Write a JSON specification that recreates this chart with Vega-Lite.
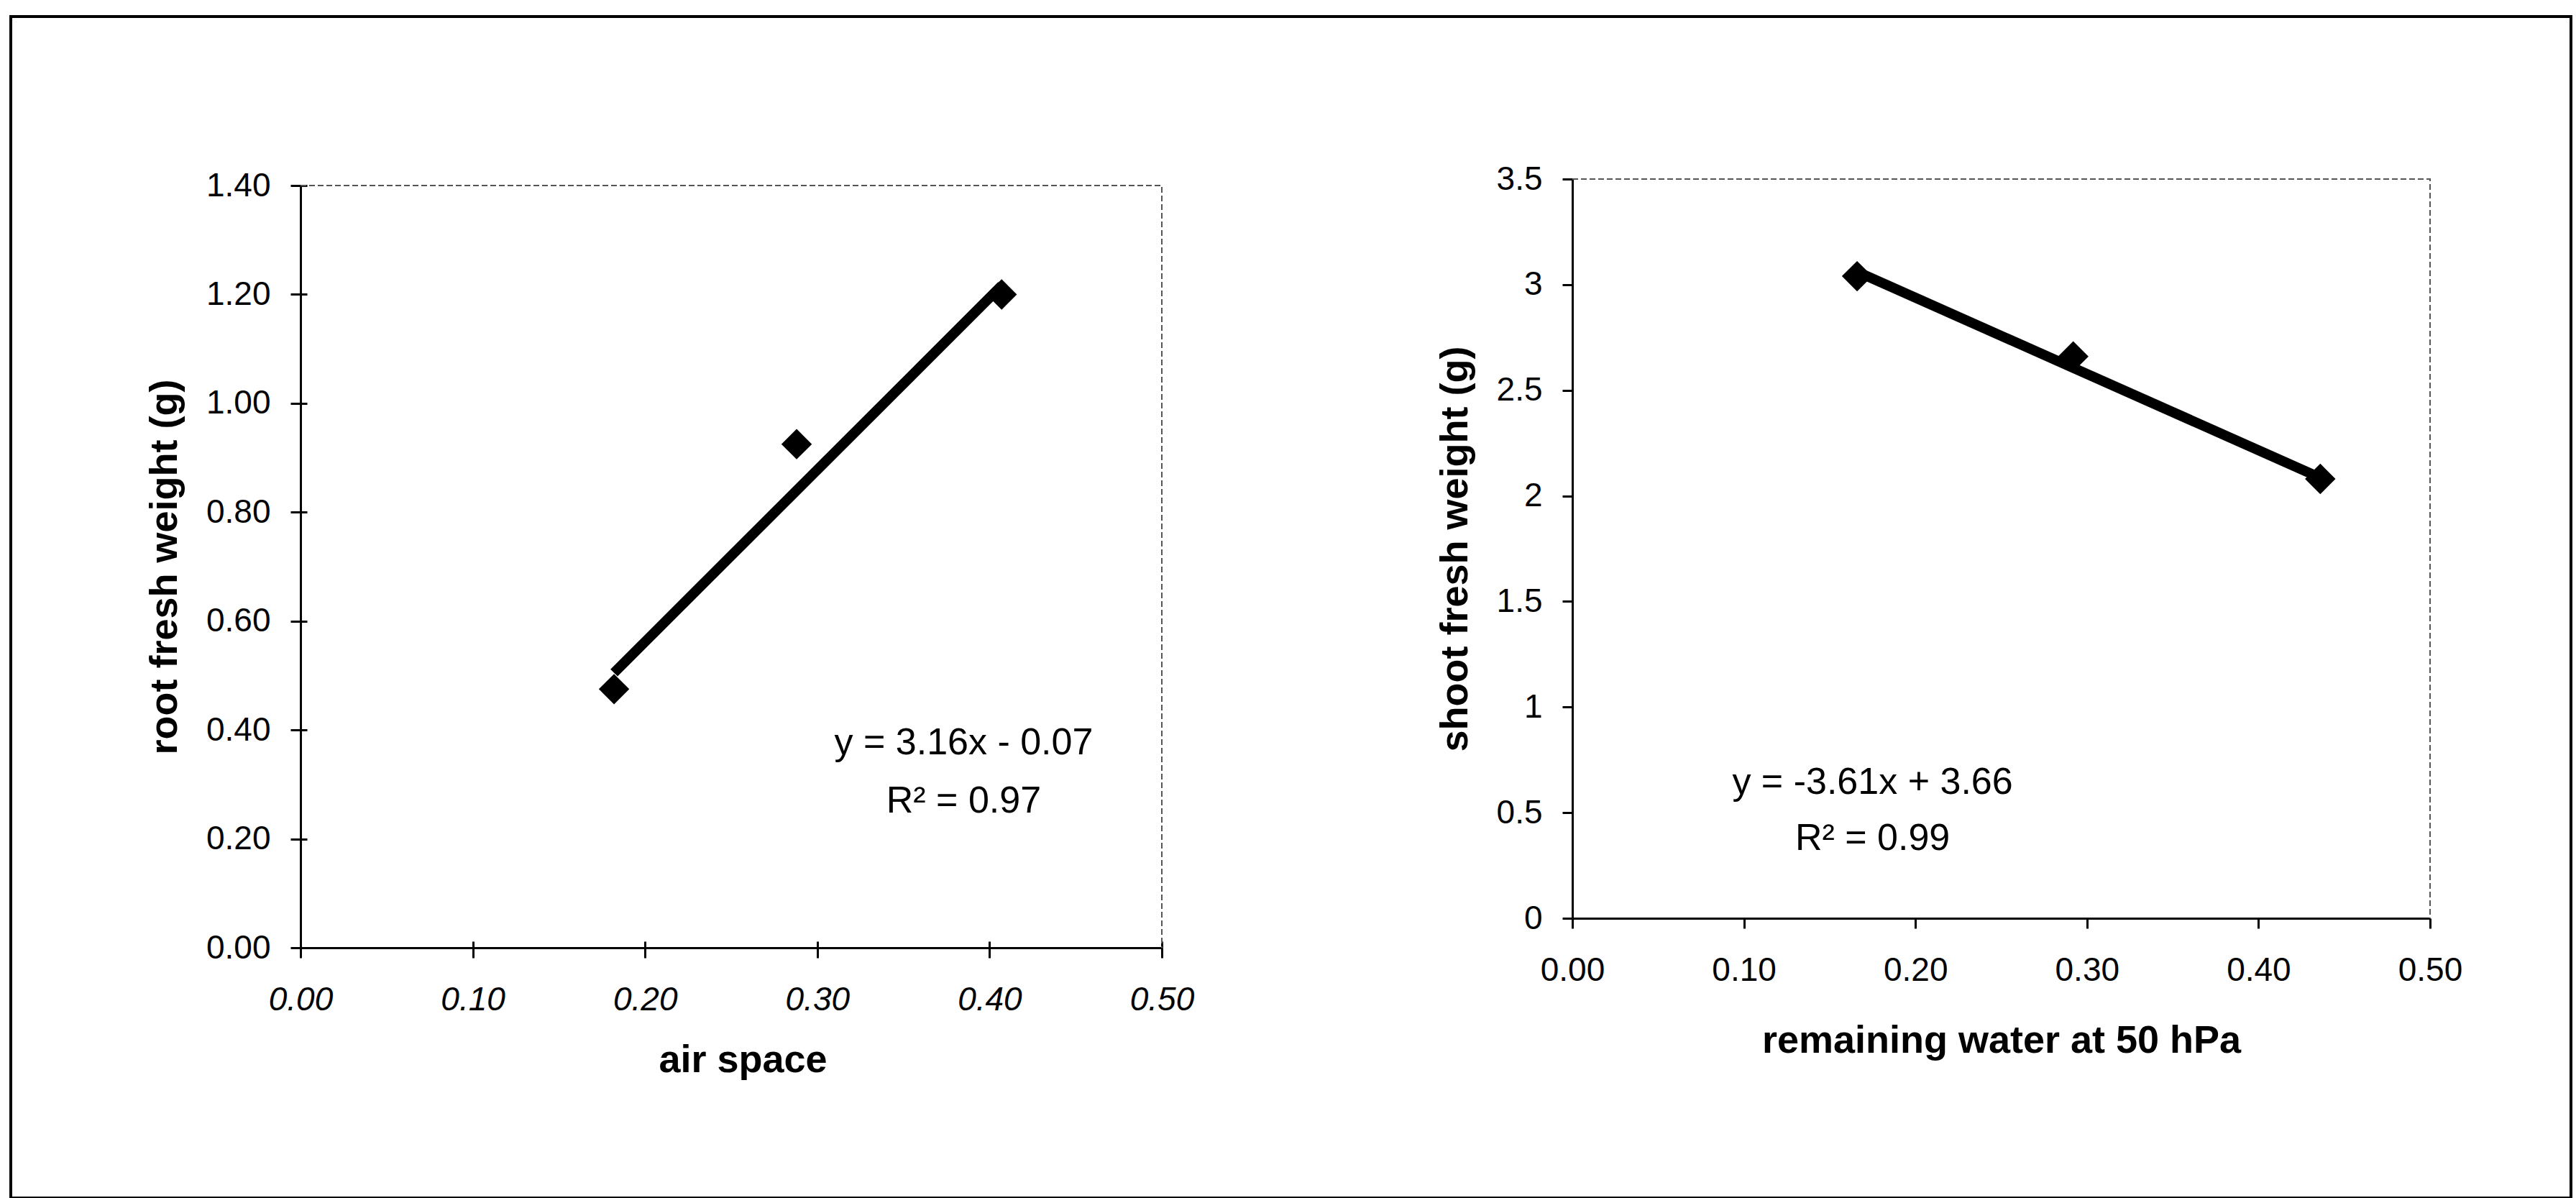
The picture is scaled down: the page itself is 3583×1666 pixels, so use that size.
{
  "$schema": "https://vega.github.io/schema/vega-lite/v6.json",
  "background": "white",
  "width": 3583,
  "height": 1666,
  "autosize": {"type": "fit", "contains": "padding"},
  "padding": {"left": 15, "top": 23, "right": 7, "bottom": 0},
  "datasets": {
    "root_box": [
      {"x": 0, "y": 1.4, "o": 1},
      {"x": 0.5, "y": 1.4, "o": 2},
      {"x": 0.5, "y": 0, "o": 3}
    ],
    "root_points": [
      {"x": 0.182, "y": 0.475},
      {"x": 0.288, "y": 0.925},
      {"x": 0.407, "y": 1.2}
    ],
    "root_fit": [
      {"x": 0.182, "y": 0.505},
      {"x": 0.407, "y": 1.216}
    ],
    "root_eq": [
      {"x": 0.385, "y": 0.376, "label": "y = 3.16x - 0.07"},
      {"x": 0.385, "y": 0.269, "label": "R² = 0.97"}
    ],
    "shoot_box": [
      {"x": 0, "y": 3.5, "o": 1},
      {"x": 0.5, "y": 3.5, "o": 2},
      {"x": 0.5, "y": 0, "o": 3}
    ],
    "shoot_points": [
      {"x": 0.166, "y": 3.04},
      {"x": 0.292, "y": 2.66},
      {"x": 0.436, "y": 2.08}
    ],
    "shoot_fit": [
      {"x": 0.166, "y": 3.061},
      {"x": 0.436, "y": 2.086}
    ],
    "shoot_eq": [
      {"x": 0.175, "y": 0.645, "label": "y = -3.61x + 3.66"},
      {"x": 0.175, "y": 0.378, "label": "R² = 0.99"}
    ]
  },
  "config": {
    "font": "Liberation Sans",
    "view": {"stroke": "black", "strokeWidth": 4},
    "axis": {
      "grid": true,
      "gridColor": "black",
      "gridWidth": 3,
      "gridOpacity": 1,
      "gridDash": [9, 5000],
      "zindex": 1,
      "domainColor": "black",
      "domainWidth": 3,
      "tickColor": "black",
      "tickWidth": 3,
      "tickSize": 14,
      "labelFlush": false,
      "labelOverlap": false,
      "labelFont": "Liberation Sans",
      "labelFontSize": 46,
      "labelColor": "black",
      "labelPadding": 28,
      "titleFont": "Liberation Sans",
      "titleFontSize": 54,
      "titleFontWeight": "bold",
      "titleColor": "black"
    },
    "axisX": {"labelPadding": 36},
    "axisY": {"titlePadding": 30}
  },
  "resolve": {
    "scale": {"x": "independent", "y": "independent"},
    "axis": {"x": "independent", "y": "independent"}
  },
  "layer": [
    {
      "encoding": {
        "x": {
          "field": "x",
          "type": "quantitative",
          "scale": {"domain": [0, 0.5], "range": [403, 1601], "nice": false, "zero": false},
          "axis": {
            "orient": "bottom",
            "offset": -348,
            "title": "air space",
            "values": [0, 0.1, 0.2, 0.3, 0.4, 0.5],
            "format": ".2f",
            "labelFontStyle": "italic",
            "titlePadding": 34,
            "titleX": 1018,
            "gridDash": [0, 938, 9, 5000]
          }
        },
        "y": {
          "field": "y",
          "type": "quantitative",
          "scale": {"domain": [0, 1.4], "range": [1295, 235], "nice": false, "zero": false},
          "axis": {
            "orient": "left",
            "offset": -403,
            "title": "root fresh weight (g)",
            "values": [0, 0.2, 0.4, 0.6, 0.8, 1.0, 1.2, 1.4],
            "format": ".2f"
          }
        }
      },
      "layer": [
        {
          "data": {"name": "root_box"},
          "mark": {"type": "line", "color": "#555555", "strokeWidth": 2, "strokeDash": [8, 4]},
          "encoding": {"order": {"field": "o", "type": "quantitative"}}
        },
        {
          "data": {"name": "root_fit"},
          "mark": {"type": "line", "color": "black", "strokeWidth": 14},
          "encoding": {}
        },
        {
          "data": {"name": "root_points"},
          "mark": {"type": "point", "shape": "diamond", "filled": true, "size": 1800, "color": "black", "opacity": 1},
          "encoding": {}
        },
        {
          "data": {"name": "root_eq"},
          "mark": {"type": "text", "fontSize": 52, "color": "black", "align": "center", "baseline": "middle"},
          "encoding": {"text": {"field": "label"}}
        }
      ]
    },
    {
      "encoding": {
        "x": {
          "field": "x",
          "type": "quantitative",
          "scale": {"domain": [0, 0.5], "range": [2172, 3365], "nice": false, "zero": false},
          "axis": {
            "orient": "bottom",
            "offset": -389,
            "title": "remaining water at 50 hPa",
            "values": [0, 0.1, 0.2, 0.3, 0.4, 0.5],
            "format": ".2f",
            "titlePadding": 48,
            "gridDash": [0, 856, 9, 5000]
          }
        },
        "y": {
          "field": "y",
          "type": "quantitative",
          "scale": {"domain": [0, 3.5], "range": [1254, 226], "nice": false, "zero": false},
          "axis": {
            "orient": "left",
            "offset": -2172,
            "title": "shoot fresh weight (g)",
            "values": [0, 0.5, 1, 1.5, 2, 2.5, 3, 3.5],
            "format": "~g"
          }
        }
      },
      "layer": [
        {
          "data": {"name": "shoot_box"},
          "mark": {"type": "line", "color": "#555555", "strokeWidth": 2, "strokeDash": [8, 4]},
          "encoding": {"order": {"field": "o", "type": "quantitative"}}
        },
        {
          "data": {"name": "shoot_fit"},
          "mark": {"type": "line", "color": "black", "strokeWidth": 14},
          "encoding": {}
        },
        {
          "data": {"name": "shoot_points"},
          "mark": {"type": "point", "shape": "diamond", "filled": true, "size": 1800, "color": "black", "opacity": 1},
          "encoding": {}
        },
        {
          "data": {"name": "shoot_eq"},
          "mark": {"type": "text", "fontSize": 52, "color": "black", "align": "center", "baseline": "middle"},
          "encoding": {"text": {"field": "label"}}
        }
      ]
    }
  ]
}
